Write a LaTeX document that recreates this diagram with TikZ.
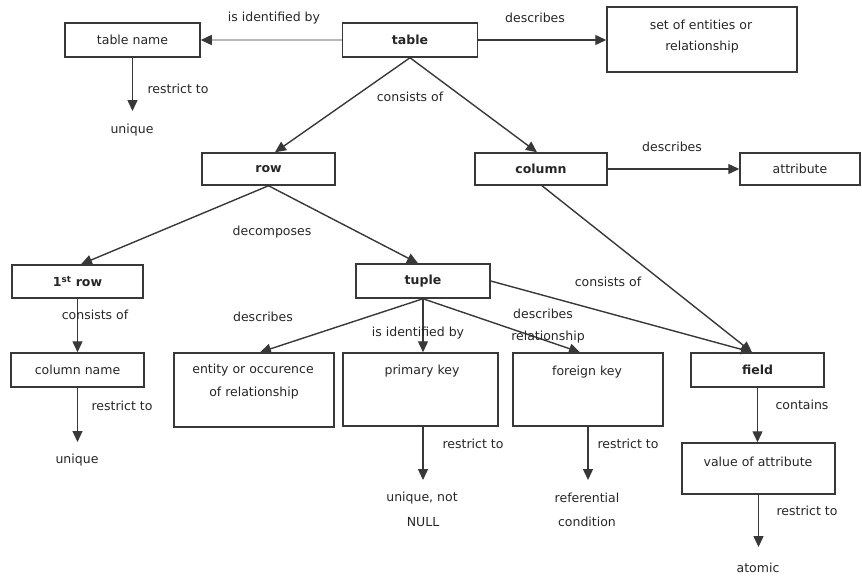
\documentclass[tikz,border=0pt]{standalone}
\usepackage{fontspec}
\setmainfont{DejaVu Sans}
\usetikzlibrary{arrows.meta}
\definecolor{edge}{HTML}{383838}
\definecolor{txt}{HTML}{262626}
\definecolor{faint}{HTML}{B8B8B8}
\begin{document}
\begin{tikzpicture}[x=1pt,y=-1pt,
  every node/.style={font=\fontsize{12.5}{15}\selectfont, text=txt, inner sep=0pt},
  box/.style={draw=edge, line width=1.5pt, fill=white},
  key/.style={font=\fontsize{12.5}{15}\selectfont\bfseries},
  lbl/.style={},
  link/.style={draw=edge, line width=1.4pt, -{Triangle[length=11pt,width=10pt]}},
  faintlink/.style={draw=faint, line width=1.4pt, -{Triangle[length=11pt,width=10pt,color=edge]}}]
\useasboundingbox (0,0) rectangle (862,576);

% boxes
\node[box, key, minimum width=135pt, minimum height=34pt] (table) at (410,40) {table};
\node[box, minimum width=135pt, minimum height=34pt] (tname) at (132.5,40) {table name};
\node[box, minimum width=190pt, minimum height=65pt] (setent) at (702,39.5) {};
\node[box, key, minimum width=133pt, minimum height=32pt] (row) at (268.5,169) {row};
\node[box, key, minimum width=132pt, minimum height=32pt] (column) at (541,169) {column};
\node[box, minimum width=120pt, minimum height=32pt] (attr) at (800,169) {attribute};
\node[box, key, minimum width=131pt, minimum height=33pt] (frow) at (77.5,281.5) {1\textsuperscript{st} row};
\node[box, key, minimum width=134pt, minimum height=34pt] (tuple) at (423,281) {tuple};
\node[box, minimum width=133pt, minimum height=34pt] (colname) at (77.5,370) {column name};
\node[box, minimum width=160pt, minimum height=74pt] (entity) at (254,390) {};
\node[box, minimum width=155pt, minimum height=73pt] (pk) at (420.5,389.5) {};
\node[box, minimum width=150pt, minimum height=73pt] (fk) at (588,389.5) {};
\node[box, key, minimum width=133pt, minimum height=34pt] (field) at (757.5,370) {field};
\node[box, minimum width=153pt, minimum height=51pt] (value) at (758.5,468.5) {};

% text set at the top of the taller boxes
\node (setent1) at (701,25) {set of entities or};
\node (setent2) at (702,47) {relationship};
\node (entity1) at (253,370) {entity or occurence};
\node (entity2) at (254,393) {of relationship};
\node (pktext) at (422,371) {primary key};
\node (fktext) at (587,372) {foreign key};
\node (valtext) at (758,462) {value of attribute};

% end texts
\node (tnuq) at (132,130) {unique};
\node (cnuq) at (77,460) {unique};
\node (pkuq1) at (422,498) {unique, not};
\node (pkuq2) at (423,522) {NULL};
\node (fkref1) at (587,498) {referential};
\node (fkref2) at (587,522) {condition};
\node (atomic) at (758,568) {atomic};

% free arrow ends
\coordinate (tnend) at (132.5,111);
\coordinate (cnend) at (77.5,442);
\coordinate (pkend) at (423,480);
\coordinate (fkend) at (588,480);
\coordinate (valend) at (758.5,547);

% connectors
\draw[faintlink] (table.west) -- (tname.east);
\draw[link] (table.east) -- (table.east -| setent.west);
\draw[link] (table.south) -- ([xshift=6.5pt]row.north);
\draw[link] (table.south) -- ([xshift=-4pt]column.north);
\draw[link] (column.east) -- (attr.west);
\draw[link] (tname.south) -- (tnend);
\draw[link] (row.south) -- ([xshift=3.5pt]frow.north);
\draw[link] (row.south) -- ([xshift=-5pt]tuple.north);
\draw[link] (frow.south) -- (colname.north);
\draw[link] (colname.south) -- (cnend);
\draw[link] (tuple.south) -- ([xshift=6pt]entity.north);
\draw[link] (tuple.south) -- (tuple.south |- pk.north);
\draw[link] (tuple.south) -- ([xshift=-8pt]fk.north);
\draw[link] (tuple.east) -- ([xshift=-5.5pt]field.north);
\draw[link] ([xshift=1pt]column.south) -- ([xshift=-5.5pt]field.north);
\draw[link] (field.south) -- (field.south |- value.north);
\draw[link] ([xshift=2.5pt]pk.south) -- (pkend);
\draw[link] (fk.south) -- (fkend);
\draw[link] (value.south) -- (valend);

% connector labels
\node[lbl] (l1) at (274,18) {is identified by};
\node[lbl] (l2) at (535,18) {describes};
\node[lbl] (l3) at (178,89) {restrict to};
\node[lbl] (l4) at (410,97) {consists of};
\node[lbl] (l5) at (672,147) {describes};
\node[lbl] (l6) at (272,232) {decomposes};
\node[lbl] (l7) at (95,315) {consists of};
\node[lbl] (l8) at (263,317) {describes};
\node[lbl] (l9) at (418,333) {is identified by};
\node[lbl] (l10) at (543,314) {describes};
\node[lbl] (l11) at (548,337) {relationship};
\node[lbl] (l12) at (608,282) {consists of};
\node[lbl] (l13) at (122,406) {restrict to};
\node[lbl] (l14) at (473,444) {restrict to};
\node[lbl] (l15) at (628,444) {restrict to};
\node[lbl] (l16) at (802,405) {contains};
\node[lbl] (l17) at (807,511) {restrict to};
\end{tikzpicture}
\end{document}
